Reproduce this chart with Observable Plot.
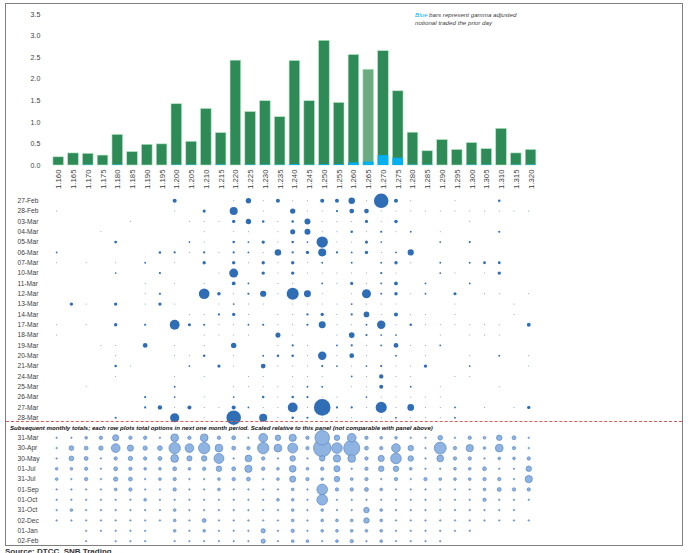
<!DOCTYPE html>
<html>
<head>
<meta charset="utf-8">
<script src="https://cdn.jsdelivr.net/npm/d3@7"></script>
<script src="https://cdn.jsdelivr.net/npm/@observablehq/plot@0.6"></script>
<style>
  body { margin: 0; background: #fff; font-family: "Liberation Sans", Arial, sans-serif; }
  #chart { position: relative; width: 691px; height: 553px; overflow: hidden; }
  #chart > * { position: absolute; }
  #frame { left: 5px; top: 3px; width: 678px; height: 543px; border: 1px solid #7f7f7f; box-sizing: border-box; }
  #split { left: 6px; top: 421px; width: 676px; border-top: 1px dashed #d0605c; }
  #note { left: 415px; top: 11px; font-size: 6.2px; line-height: 8.3px; font-style: italic; color: #404040; }
  #caption { left: 10px; top: 424px; font-size: 6.1px; font-weight: bold; font-style: italic; color: #111; white-space: nowrap; }
  #source { left: 5px; top: 547px; font-size: 8px; line-height: 9px; font-weight: bold; color: #333; }
</style>
</head>
<body>
<div id="chart">
  <div id="frame"></div>
  <div id="split"></div>
  <div id="note"><span style="color:#00b0f0">Blue</span> bars represent gamma adjusted<br>notional traded the prior day</div>
  <div id="caption">Subsequent monthly totals; each row plots total options in next one month period. Scaled relative to this panel (not comparable with panel above)</div>
  <div id="source">Source: DTCC, SNB Trading</div>
</div>
<script>
const t = 0.3; // barely visible dot

const strikes = ["1.160","1.165","1.170","1.175","1.180","1.185","1.190","1.195","1.200","1.205","1.210",
  "1.215","1.220","1.225","1.230","1.235","1.240","1.245","1.250","1.255","1.260","1.265",
  "1.270","1.275","1.280","1.285","1.290","1.295","1.300","1.305","1.310","1.315","1.320"];

const yTicks = [0, 0.5, 1, 1.5, 2, 2.5, 3, 3.5];

// total notional per strike (green) and gamma adjusted notional traded prior day (blue)
const notional = [0.19,0.28,0.27,0.23,0.71,0.31,0.48,0.49,1.42,0.55,1.31,
  0.75,2.43,1.24,1.49,1.12,2.42,1.49,2.89,1.45,2.56,2.22,
  2.65,1.72,0.76,0.33,0.59,0.36,0.52,0.38,0.85,0.28,0.36];
const priorDay = [0,0,0.01,0,0.01,0,0,0,0.01,0.01,0,
  0.01,0,0.01,0.01,0.01,0.02,0.01,0.02,0.02,0.06,0.08,
  0.23,0.17,0.01,0.01,0,0,0.01,0.01,0,0.01,0.01];

const dailyDates = ["27-Feb","28-Feb","03-Mar","04-Mar","05-Mar","06-Mar","07-Mar","10-Mar","11-Mar","12-Mar","13-Mar",
  "14-Mar","17-Mar","18-Mar","19-Mar","20-Mar","21-Mar","24-Mar","25-Mar","26-Mar","27-Mar","28-Mar"];

const dailySizes = [
  [0,0,0,0,0,0,0,0,5,0,0, 0,t,9,t,5,t,t,5,5,13,t, 65,5,t,0,0,t,0,0,2,0,0],
  [t,0,0,0,0,0,0,0,t,0,3, 0,20,0,t,0,9,t,t,1.5,7,7, t,t,t,t,t,t,t,t,t,t,t],
  [0,0,0,0,0,t,0,0,0,t,t, t,3.5,9,2,t,2,11,t,t,t,3, t,4,0,0,0,0,t,0,0,0,0],
  [0,0,0,t,0,0,0,0,0,0,t, 0,t,t,0,t,8,11,t,t,2,t, 1.5,t,1,0,t,0,0,0,1.5,0,0],
  [0,0,0,0,2.5,0,0,0,0,1,t, 0,2,1,3.5,t,2,1,40,t,t,3, 1,0,0,0,1,0,1.5,0,0,0,0],
  [1,0,0,0,0,0,0,2,1.5,t,1.5, t,1.5,1,t,13,1.5,3.5,20,1.5,1,3.5, t,1,12,0,0,0,0,0,0,0,0],
  [t,0,t,0,t,0,1,0,t,0,3.5, 0,3.5,t,3.5,t,3.5,t,1,0,1,0, 1,3.5,t,0,1,0,1,2.5,2.5,0,0],
  [0,0,0,0,1,0,0,1.5,0,0,0, t,25,0,3.5,t,3.5,t,t,t,t,t, 1.5,t,0,0,1,t,0,t,3.5,0,0],
  [0,0,0,0,0,0,t,0,t,0,t, 0,4.5,1,0,t,t,0,1,t,3,t, 1,4.5,0,1,0,0,1,0,0,0,0],
  [0,0,0,0,0,0,t,1.5,0,0,35, 4,t,1.5,12,t,45,15,t,0,t,25, 1,3.5,t,1,0,3,0,t,t,0,t],
  [0,3.5,t,0,3.5,0,t,3.5,t,0,0, t,1,t,t,0,t,t,t,t,1,t, t,t,0,0,0,t,0,0,0,t,0],
  [0,0,0,0,0,0,0,0,0,t,t, 1.5,3.5,t,0,t,t,1.5,3.5,t,1.5,10, t,5,t,t,0,t,0,0,0,t,0],
  [t,0,t,0,3.5,0,1.5,0,30,3,1.5, t,t,1,1.5,t,t,1.5,15,t,t,1, 22,t,2,t,t,t,t,t,t,0,4.5],
  [t,0,0,0,0,0,0,0,0,0,t, t,t,t,0,8,t,0,0,t,10,1.5, 1,1,0,0,t,0,t,t,t,0,0],
  [0,0,0,t,t,0,7,0,t,0,t, 0,9,0,0,t,1.5,t,0,1,1.5,t, 1,7,t,t,1,0,0,0,0,0,0],
  [0,0,0,0,t,0,0,0,t,t,2, 0,t,0,1,2,2,t,22,t,7,t, 0,1,0,t,0,0,t,0,1,0,t],
  [0,0,0,0,2,t,0,0,0,1,0, 3,t,0,7,t,t,t,1.5,1,t,1, 1.5,t,t,3.5,0,0,1,0,0,0,t],
  [0,0,0,0,t,0,0,0,t,0,t, 0,0,t,t,0,t,t,t,0,1,t, 6,t,t,0,0,t,t,0,0,0,0],
  [0,0,t,0,0,0,0,0,1,0,0, 0,t,t,t,t,t,1,1,0,t,t, 5,t,1,0,t,0,0,0,t,0,0],
  [0,0,0,0,0,0,1.5,0,1,0,t, 0,1,0,2,t,2,1.5,t,t,0,1, t,t,t,t,t,0,0,0,0,0,0],
  [0,0,0,0,0,0,1.5,6,t,5,t, t,5,1,t,t,30,t,85,1.5,1.5,t, 38,t,14,t,t,1,0,t,0,t,3.5],
  [0,0,0,0,1.5,0,0,0,26,0,t, 0,65,0,20,t,2,1.5,t,t,t,0, t,1,t,t,t,1,0,0,0,0,0]
];

const monthDates = ["31-Mar","30-Apr","30-May","01-Jul","31-Jul","01-Sep","01-Oct","31-Oct","02-Dec","01-Jan","02-Feb"];

const monthSizes = [
  [t,t,1,1.5,5,1.5,1.5,t,8,1.5,8, 1.5,2,t,10,4,7,1.5,28,4,10,1.5, 1,1,t,t,3,t,1.5,1,4,2,t],
  [t,3,2,2.5,10,5,2.5,3,17,10,17, 8,2,1.5,17,8,13,1.5,40,15,34,2, 1.5,10,4,t,19,1.5,7,1,8,1.5,t],
  [t,3,2,t,1.5,2.5,1.5,2,8,3.5,4, 13,t,6,1.5,t,4,t,4,7,8,1.5, 5,15,4,t,6,1.5,1.5,t,1,1,1.5],
  [1,1,1.5,t,2,1.5,1,1,2,1,1.5, 4,2,7,1.5,1,6,1,1.5,5,t,1.5, 4,4,1,t,t,1,1,2,t,t,4],
  [1,t,1.5,t,2.5,2,t,1,1.5,t,t, 1,1.5,2,t,1,5,1.5,1,4,1,1.5, t,1.5,t,1.5,1,1,1,1.5,1.5,t,7],
  [t,t,t,t,1,1.5,t,t,1.5,t,t, 1,t,t,t,t,1,t,15,1.5,1.5,2, 1,t,t,t,t,t,t,1,2,1.5,1.5],
  [t,t,t,t,t,t,1,t,t,t,t, t,t,t,t,1,1,t,15,t,t,t, t,t,t,t,t,t,t,1.5,t,t,t],
  [t,1,t,t,t,t,t,t,1,t,t, t,t,t,t,t,1,t,1,t,t,4, 1,t,t,t,t,t,t,t,t,t,0],
  [t,t,t,t,t,t,t,t,1,t,2, t,t,t,t,t,1,t,1,1,1,4, 1,t,t,t,t,t,t,t,t,t,t],
  [0,0,t,t,t,t,t,0,1,t,1, t,t,t,2.5,t,1.5,t,1,1,1,1, 1,t,t,t,t,t,t,0,0,0,0],
  [0,0,t,0,t,t,t,0,t,t,t, t,t,t,2.5,t,1,1,t,1,1.5,t, 1,t,t,t,t,0,0,0,0,0,0]
];

const W = 691;
const font = "'Liberation Sans', Arial, sans-serif";
const baseStyle = {fontFamily: font, color: "#404040", overflow: "visible", background: "transparent"};

const bars = strikes.map((strike, i) => ({strike, total: notional[i], prior: priorDay[i]}));

const barChart = Plot.plot({
  width: W,
  height: 196,
  marginTop: 14,
  marginBottom: 31,
  marginLeft: 48.8,
  marginRight: 151,
  style: {...baseStyle, fontSize: "7px"},
  x: {domain: strikes, padding: 0.28, round: false},
  y: {domain: [0, 3.5], ticks: yTicks, tickFormat: ".1f", tickSize: 0, label: null},
  marks: [
    Plot.axisX({tickRotate: -90, tickSize: 0, tickPadding: 4, fontSize: 7.8, label: null}),
    Plot.barY(bars, {
      x: "strike", y: "total",
      fill: d => d.strike === "1.265" ? "#6aab80" : "#2e8b57",
      stroke: "#b3e6c2", strokeWidth: 0.6
    }),
    Plot.barY(bars, {x: "strike", y: "prior", fill: "#00b0f0"})
  ]
});

function bubblePanel(dates, sizes, opts) {
  const cells = dates.flatMap((date, j) => sizes[j].map((v, i) => ({date, strike: strikes[i], v})));
  return Plot.plot({
    width: W,
    height: opts.height,
    marginTop: opts.marginTop,
    marginBottom: opts.marginBottom,
    marginLeft: 46.7,
    marginRight: 153.3,
    style: {...baseStyle, fontSize: "6.6px"},
    x: {type: "band", domain: strikes, padding: 0.28, round: false, axis: null},
    y: {type: "band", domain: dates, padding: 0, round: false},
    r: {type: "sqrt", domain: opts.rDomain, range: opts.rRange},
    marks: [
      Plot.axisY({tickSize: 0, tickPadding: 0, textAnchor: "start", dx: 17 - 46.7, label: null, fill: "#404040"}),
      Plot.dot(cells, {x: "strike", y: "date", r: "v", fill: opts.fill, stroke: opts.stroke, strokeWidth: opts.strokeWidth})
    ]
  });
}

const dailyChart = bubblePanel(dailyDates, dailySizes, {
  height: 234, marginTop: 5.1, marginBottom: 1.6,
  rDomain: [0, 100], rRange: [0, 9],
  fill: "#2f6db5", stroke: "none", strokeWidth: 0
});

const monthChart = bubblePanel(monthDates, monthSizes, {
  height: 116, marginTop: 2.1, marginBottom: 0.2,
  rDomain: [0, 40], rRange: [0, 8.7],
  fill: "#8fb4e2", stroke: "#5b88c4", strokeWidth: 0.7
});

const chart = d3.select("#chart");
[[barChart, 0], [dailyChart, 190], [monthChart, 430]].forEach(([svg, top]) => {
  d3.select(svg).style("left", "0px").style("top", top + "px");
  chart.node().insertBefore(svg, d3.select("#split").node());
});
</script>
</body>
</html>
